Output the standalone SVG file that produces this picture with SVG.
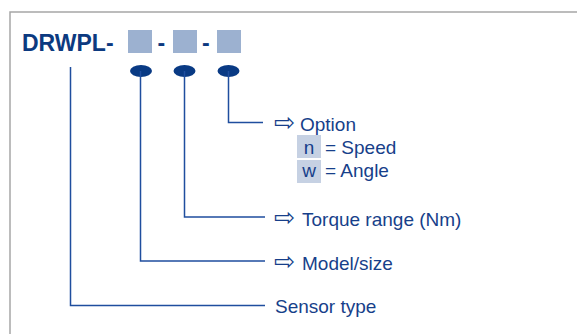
<svg xmlns="http://www.w3.org/2000/svg" width="577" height="334" viewBox="0 0 577 334">
<style>
.t{font-family:"Liberation Sans",Arial,sans-serif;font-size:19px;fill:#173f8a}
.ar{font-family:"DejaVu Sans",sans-serif;font-size:25px;fill:#173f8a}
.ti{font-family:"Liberation Sans",Arial,sans-serif;font-size:23px;font-weight:bold;fill:#0c3a80}
.sq{fill:#9cb1d0}
.hl{fill:#c6d1e3}
.dot{fill:#093a84}
.ln{fill:none;stroke:#1f4e9e;stroke-width:1.5}
</style>
<rect width="577" height="334" fill="#ffffff"/>
<rect x="10" y="12" width="620" height="400" fill="#ffffff" stroke="#a6a6a6" stroke-width="1.5"/>
<g id="title">
<text class="ti" x="22" y="50.5">DRWPL-</text>
<rect class="sq" x="128" y="30" width="24" height="23"/>
<text class="ti" x="157.5" y="50.5">-</text>
<rect class="sq" x="173" y="30" width="24" height="23"/>
<text class="ti" x="202" y="50.5">-</text>
<rect class="sq" x="217" y="30" width="24" height="23"/>
</g>
<g id="dots">
<ellipse class="dot" cx="141" cy="71" rx="11" ry="6"/>
<ellipse class="dot" cx="184.5" cy="71" rx="11" ry="6"/>
<ellipse class="dot" cx="228.5" cy="71" rx="11" ry="6"/>
</g>
<g id="connectors">
<polyline class="ln" points="228.5,71 228.5,122.5 263,122.5"/>
<polyline class="ln" points="184.5,71 184.5,217 265,217"/>
<polyline class="ln" points="140.5,71 140.5,261 265,261"/>
<polyline class="ln" points="70.5,67 70.5,305.5 265,305.5"/>
</g>
<g id="option">
<text class="ar" x="274" y="131">⇨</text>
<text class="t" x="300" y="130.5">Option</text>
<rect class="hl" x="297" y="135" width="24" height="23"/>
<text class="t" x="309" y="154" text-anchor="middle">n</text>
<text class="t" x="325" y="154">= Speed</text>
<rect class="hl" x="297" y="160" width="24" height="23"/>
<text class="t" x="309" y="177" text-anchor="middle">w</text>
<text class="t" x="325" y="177">= Angle</text>
</g>
<g id="torque">
<text class="ar" x="274" y="226">⇨</text>
<text class="t" x="302" y="225.5">Torque range (Nm)</text>
</g>
<g id="model">
<text class="ar" x="274" y="270">⇨</text>
<text class="t" x="302" y="269.5">Model/size</text>
</g>
<g id="sensor">
<text class="t" x="275" y="313">Sensor type</text>
</g>
</svg>
